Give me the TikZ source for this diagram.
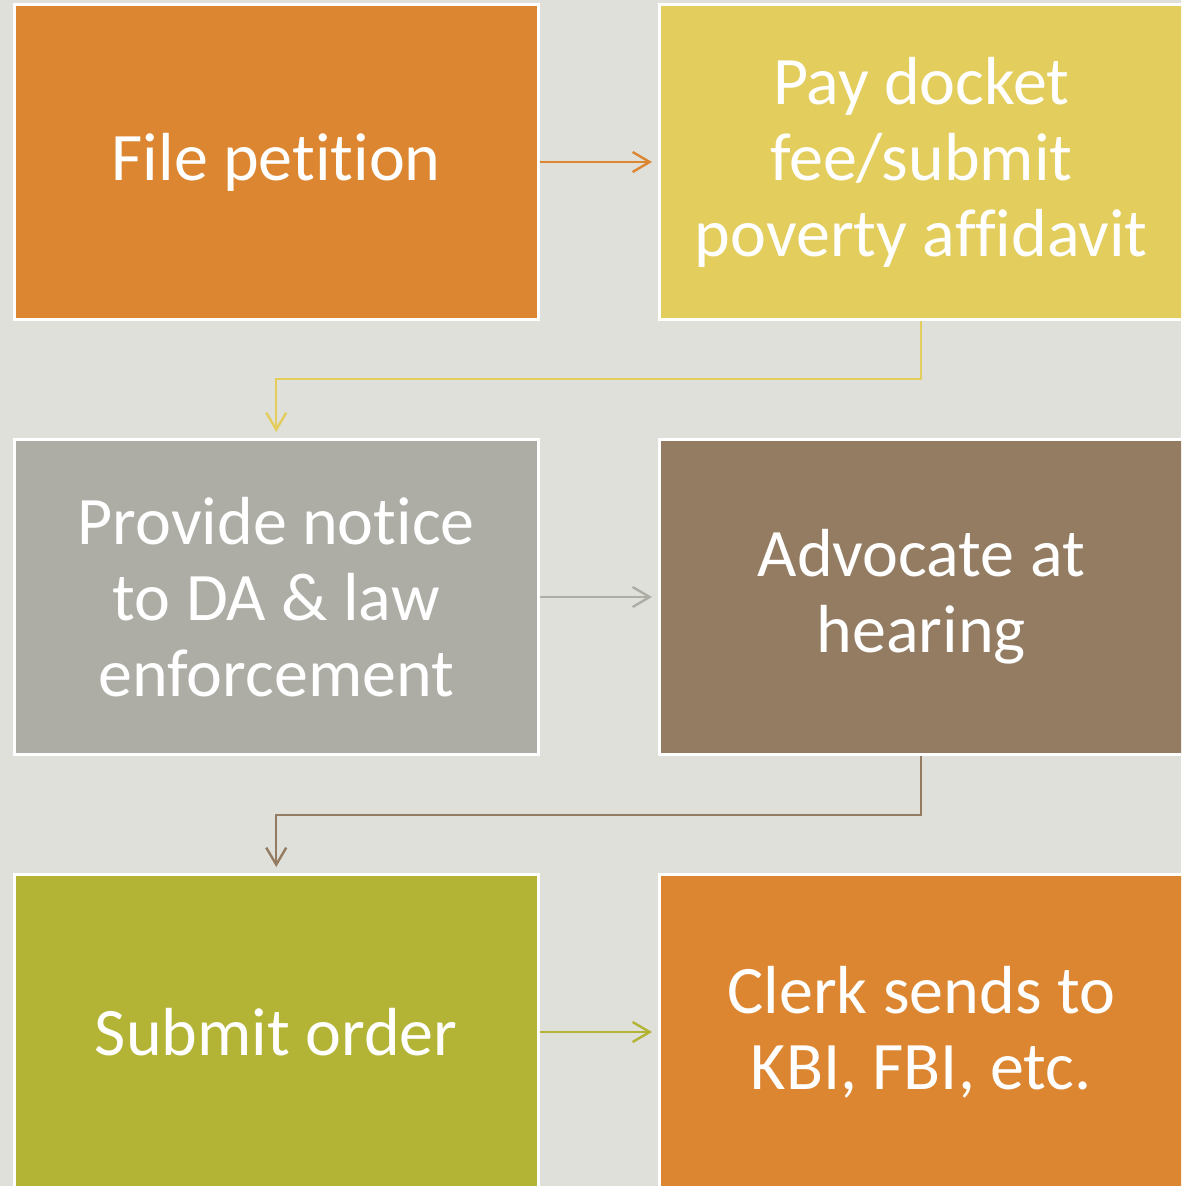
\documentclass[tikz,border=0pt]{standalone}
\usepackage{fontspec}
\setmainfont{Carlito}[Ligatures={NoCommon}]
\usetikzlibrary{arrows.meta}
\definecolor{bgcol}{RGB}{224,224,218}
\definecolor{cOrange}{RGB}{220,134,49}
\definecolor{cYellow}{RGB}{227,205,92}
\definecolor{cGray}{RGB}{173,173,166}
\definecolor{cBrown}{RGB}{147,124,98}
\definecolor{cOlive}{RGB}{179,180,53}
\begin{document}
\begin{tikzpicture}[x=1pt,y=-1pt,
  stepbox/.style={draw=white, line width=3pt, minimum width=524.5pt,
    minimum height=315pt, inner sep=0pt, text=white, align=center,
    font=\fontsize{68}{76}\selectfont},
  link/.style={line width=2.4pt, -{Straight Barb[length=17pt,width=20pt]}}]
  \useasboundingbox (0,0) rectangle (1181,1186);
  \fill[bgcol] (0,0) rectangle (1181,1186);
  \clip (0,0) rectangle (1181,1186);

  % process steps, two columns, three rows
  \node[stepbox, fill=cOrange] (b1) at (276.25,162) {File petition};
  \node[stepbox, fill=cYellow] (b2) at (921.25,162) {Pay docket\\fee/submit\\poverty affidavit};
  \node[stepbox, fill=cGray]   (b3) at (276.25,597) {Provide notice\\to DA \& law\\enforcement};
  \node[stepbox, fill=cBrown]  (b4) at (921.25,597) {Advocate at\\hearing};
  \node[stepbox, fill=cOlive]  (b5) at (276.25,1032) {Submit order};
  \node[stepbox, fill=cOrange] (b6) at (921.25,1032) {Clerk sends to\\KBI, FBI, etc.};

  % connectors
  \draw[link, cOrange] (b1.east) -- ([xshift=-5.5pt]b2.west);
  \draw[link, cYellow] (b2.south) -- ++(0,58) -| ([yshift=6pt]b3.north);
  \draw[link, cGray]   (b3.east) -- ([xshift=-5.5pt]b4.west);
  \draw[link, cBrown]  (b4.south) -- ++(0,59) -| ([yshift=6pt]b5.north);
  \draw[link, cOlive]  (b5.east) -- ([xshift=-5.5pt]b6.west);
\end{tikzpicture}
\end{document}
